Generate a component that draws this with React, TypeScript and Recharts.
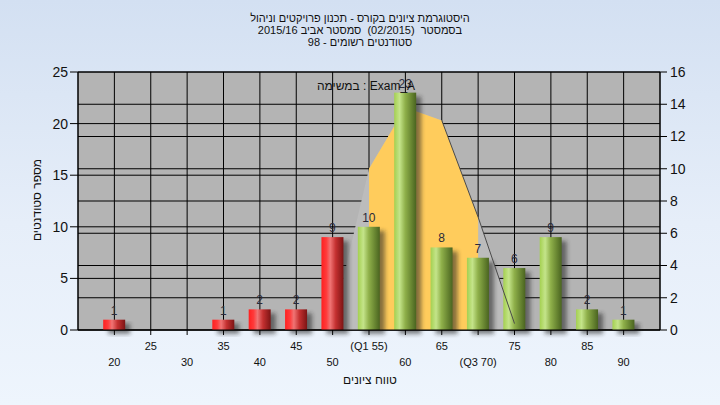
import React from "react";
import {
  ComposedChart,
  Bar,
  Area,
  Line,
  XAxis,
  YAxis,
  CartesianGrid,
  LabelList,
} from "recharts";

// grade buckets and number of students in each
const grades = [20, 25, 30, 35, 40, 45, 50, 55, 60, 65, 70, 75, 80, 85, 90];
const counts = [1, 0, 0, 1, 2, 2, 9, 10, 23, 8, 7, 6, 9, 2, 1];
const gradeLabels = [
  "20", "25", "30", "35", "40", "45", "50", "(Q1 55)",
  "60", "65", "(Q3 70)", "75", "80", "85", "90",
];

// distribution curve (right axis), its interquartile part and the shaded edge
const curve = [null, null, null, null, null, null, 0.4, 10, 13.8, 13, 7, 0.4, null, null, null];
const interquartile = [null, null, null, null, null, null, null, 10, 13.8, 13, 7, null, null, null, null];
const tailEdge = [null, null, null, null, null, null, null, null, null, 13, 7, 0.4, null, null, null];

const leftTicks = [0, 5, 10, 15, 20, 25];
const rightTicks = [0, 2, 4, 6, 8, 10, 12, 14, 16];
const passMark = 55;

const titleLines = [
  "היסטוגרמת ציונים בקורס - תכנון פרויקטים וניהול",
  "בסמסטר  (02/2015)  סמסטר אביב 2015/16",
  "סטודנטים רשומים - 98",
];
const legendText = "Exam_A : במשימה";
const yTitle = "מספר סטודנטים";
const xTitle = "טווח ציונים";

const chartData = grades.map((g, i) => ({
  grade: g,
  students: counts[i],
  curve: curve[i],
  iqr: interquartile[i],
  edge: tailEdge[i],
}));

const FONT = "'Liberation Sans', Arial, sans-serif";

function CylinderBar(props: any) {
  const { x, y, width, height, index, payload } = props;
  if (!height || height <= 0) return null;
  const red = payload.grade < passMark;
  const gid = `bar-grad-${index}`;
  const fid = `bar-shadow-${index}`;
  const stops = red
    ? [
        ["0", "#ff2020"],
        ["0.22", "#ff3a3a"],
        ["0.4", "#f07474"],
        ["0.65", "#c43030"],
        ["1", "#7c1414"],
      ]
    : [
        ["0", "#a4d050"],
        ["0.25", "#c4e48a"],
        ["0.5", "#8fb04a"],
        ["0.75", "#6c8a34"],
        ["1", "#4a6420"],
      ];
  return (
    <g>
      <defs>
        <linearGradient id={gid} x1="0" y1="0" x2="1" y2="0">
          {stops.map(([o, c]) => (
            <stop key={o} offset={o} stopColor={c} />
          ))}
        </linearGradient>
        <filter id={fid} x="-50%" y="-20%" width="200%" height="140%">
          <feGaussianBlur stdDeviation="2" />
        </filter>
      </defs>
      <rect
        x={x + 5}
        y={y + 4}
        width={width}
        height={height}
        fill="#202020"
        opacity={0.55}
        filter={`url(#${fid})`}
      />
      <rect x={x} y={y} width={width} height={height} fill={`url(#${gid})`} />
    </g>
  );
}

function GradeTick(props: any) {
  const { x, y, payload } = props;
  const i = grades.indexOf(payload.value);
  const upper = i % 2 === 1;
  return (
    <text
      x={x}
      y={y}
      dy={upper ? 13 : 29}
      textAnchor="middle"
      fontSize={11}
      fontFamily={FONT}
      fill="#111"
    >
      {gradeLabels[i]}
    </text>
  );
}

export default function App() {
  return (
    <div
      style={{
        position: "fixed",
        left: 0,
        top: 0,
        width: 720,
        height: 405,
        background: "linear-gradient(to bottom, #d3e0f2 0%, #e6eef9 55%, #eef5fd 100%)",
        fontFamily: FONT,
        overflow: "hidden",
      }}
    >
      <div
        dir="rtl"
        style={{
          position: "absolute",
          left: 0,
          top: 12,
          width: 720,
          textAlign: "center",
          fontSize: 11,
          lineHeight: "12px",
          color: "#111",
        }}
      >
        {titleLines.map((t) => (
          <div key={t} style={{ whiteSpace: "pre", height: 12 }}>
            {t}
          </div>
        ))}
      </div>
      <ComposedChart
        width={720}
        height={405}
        data={chartData}
        margin={{ top: 72, right: 0, bottom: 45, left: 0 }}
        style={{ position: "absolute", left: 0, top: 0 }}
      >
        <CartesianGrid
          yAxisId="left"
          stroke="#000"
          strokeOpacity={1}
          fill="#b4b4b4"
          fillOpacity={1}
        />
        <CartesianGrid yAxisId="right" stroke="#000" vertical={false} />
        <XAxis
          dataKey="grade"
          type="number"
          domain={[15, 95]}
          ticks={grades}
          interval={0}
          height={30}
          tickSize={5}
          tickMargin={2}
          stroke="#000"
          tick={<GradeTick />}
        />
        <YAxis
          yAxisId="left"
          domain={[0, 25]}
          ticks={leftTicks}
          width={78}
          tickSize={8}
          tickMargin={2}
          stroke="#000"
          tick={{ fontSize: 14, fill: "#111", fontFamily: FONT }}
        />
        <YAxis
          yAxisId="right"
          orientation="right"
          domain={[0, 16]}
          ticks={rightTicks}
          width={60}
          tickSize={7}
          tickMargin={3}
          stroke="#000"
          tick={{ fontSize: 14, fill: "#111", fontFamily: FONT, textAnchor: "start" }}
        />
        <Area
          yAxisId="right"
          dataKey="curve"
          type="linear"
          fill="#bcbcbc"
          fillOpacity={1}
          stroke="none"
          isAnimationActive={false}
        />
        <Area
          yAxisId="right"
          dataKey="iqr"
          type="linear"
          fill="#ffcc5c"
          fillOpacity={1}
          stroke="none"
          isAnimationActive={false}
        />
        <Line
          yAxisId="right"
          dataKey="edge"
          type="linear"
          stroke="#4a4a4a"
          strokeWidth={1}
          dot={false}
          isAnimationActive={false}
        />
        <Bar
          yAxisId="left"
          dataKey="students"
          barSize={22}
          shape={(p: any) => <CylinderBar {...p} />}
          isAnimationActive={false}
        >
          <LabelList
            dataKey="students"
            position="top"
            offset={5}
            formatter={(v: any) => (v ? v : "")}
            fill="#2a2a3a"
            stroke="none"
            fontSize={12}
            fontFamily={FONT}
          />
        </Bar>
      </ComposedChart>
      <div
        dir="rtl"
        style={{
          position: "absolute",
          left: 266,
          top: 79,
          width: 200,
          textAlign: "center",
          fontSize: 12,
          color: "#111",
        }}
      >
        {legendText}
      </div>
      <div
        dir="rtl"
        style={{
          position: "absolute",
          left: 370 - 60,
          top: 373,
          width: 120,
          textAlign: "center",
          fontSize: 12,
          color: "#111",
        }}
      >
        {xTitle}
      </div>
      <div
        dir="rtl"
        style={{
          position: "absolute",
          left: 37 - 60,
          top: 200 - 7,
          width: 120,
          textAlign: "center",
          fontSize: 12,
          lineHeight: "14px",
          color: "#111",
          transform: "rotate(-90deg)",
        }}
      >
        {yTitle}
      </div>
    </div>
  );
}
